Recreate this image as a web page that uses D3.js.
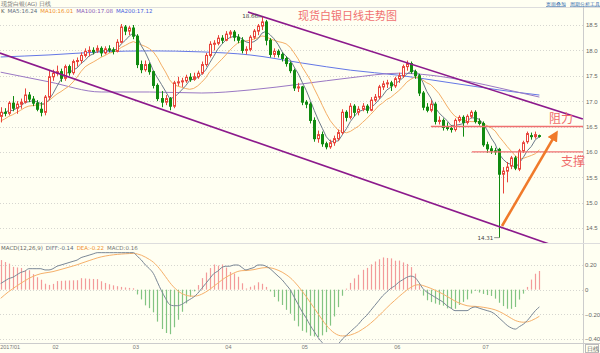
<!DOCTYPE html>
<html><head><meta charset="utf-8">
<script src="https://cdn.jsdelivr.net/npm/d3@7"></script>
<style>
body{margin:0;background:#fffff2;}
svg{display:block;font-family:"DejaVu Sans",sans-serif;}
</style>
</head><body>
<svg id="c" width="600" height="353"></svg>
<script>
// ---------- data ----------
const monthLabels = ["2017/01","02","03","04","05","06","07"];
const monthStarts = [0,13,33,56,75,98,120];

const opens = [16.70,16.78,16.76,16.96,16.86,16.94,16.98,17.12,17.04,16.96,16.84,16.78,17.08,
17.48,17.55,17.58,17.45,17.68,17.56,17.78,17.80,17.90,17.98,18.00,18.00,18.04,17.95,18.03,18.01,17.98,18.16,18.46,18.38,
18.44,18.28,17.72,17.62,17.72,17.58,17.31,17.05,16.98,17.05,16.90,17.36,17.38,17.40,17.47,17.43,17.48,17.55,17.72,17.90,18.12,18.14,18.24,
18.20,18.32,18.36,18.26,18.20,18.00,18.02,18.26,18.38,18.48,18.56,18.20,17.92,17.98,17.92,17.84,17.74,17.60,17.26,
17.28,16.98,16.94,16.62,16.26,16.34,16.16,16.10,16.18,16.26,16.38,16.78,16.68,16.90,16.78,16.84,16.90,16.82,17.02,17.08,17.28,17.34,17.36,
17.30,17.44,17.50,17.68,17.74,17.58,17.50,17.16,16.88,16.82,16.94,16.60,16.62,16.48,16.46,16.44,16.62,16.68,16.58,16.70,16.78,16.60,
16.56,16.14,16.06,16.02,16.05,15.56,15.62,15.72,15.88,15.66,16.02,16.20,16.32,16.30,16.32];
const highs = [16.88,16.86,17.00,17.10,17.00,17.05,17.25,17.18,17.10,17.02,16.98,17.12,17.60,
17.62,17.70,17.64,17.72,17.72,17.82,17.86,17.96,18.04,18.08,18.06,18.10,18.08,18.08,18.10,18.06,18.22,18.52,18.50,18.48,
18.50,18.32,17.80,17.80,17.76,17.60,17.35,17.20,17.12,17.08,17.40,17.48,17.46,17.52,17.55,17.56,17.60,17.78,17.95,18.18,18.20,18.30,18.30,
18.38,18.40,18.40,18.32,18.26,18.08,18.30,18.42,18.52,18.66,18.60,18.24,18.04,18.02,17.96,17.88,17.78,17.64,17.36,
17.30,17.02,16.98,16.68,16.42,16.40,16.20,16.24,16.32,16.44,16.84,16.82,16.96,16.94,16.90,16.96,16.94,17.08,17.14,17.32,17.40,17.42,17.40,
17.48,17.56,17.72,17.80,17.78,17.62,17.54,17.20,16.96,17.02,16.98,16.70,16.66,16.58,16.52,16.66,16.72,16.72,16.74,16.82,16.82,16.66,
16.60,16.20,16.12,16.08,16.08,15.70,15.80,15.92,15.92,16.06,16.22,16.40,16.38,16.40,16.34];
const lows = [16.58,16.70,16.72,16.80,16.75,16.85,16.95,16.98,16.90,16.80,16.70,16.72,17.02,
17.40,17.50,17.38,17.40,17.50,17.52,17.68,17.74,17.86,17.88,17.92,17.95,17.88,17.92,17.96,17.92,17.96,18.14,18.30,18.30,
18.22,17.65,17.55,17.58,17.52,17.25,17.00,16.88,16.92,16.82,16.86,17.30,17.28,17.36,17.38,17.40,17.44,17.52,17.68,17.86,18.00,18.10,18.14,
18.18,18.24,18.18,18.14,17.94,17.92,17.98,18.22,18.30,18.40,18.10,17.86,17.86,17.86,17.78,17.68,17.55,17.20,17.18,
16.92,16.86,16.56,16.20,16.18,16.10,16.05,16.06,16.12,16.22,16.34,16.60,16.64,16.70,16.72,16.80,16.76,16.80,16.98,17.04,17.22,17.26,17.20,
17.26,17.36,17.46,17.60,17.54,17.44,17.10,16.82,16.78,16.78,16.54,16.54,16.42,16.42,16.38,16.40,16.58,16.30,16.54,16.66,16.56,16.52,
16.10,15.98,15.96,15.94,14.31,15.18,15.40,15.66,15.64,15.62,15.98,16.16,16.24,16.26,16.28];
const closes = [16.78,16.76,16.96,16.86,16.94,16.98,17.12,17.04,16.96,16.84,16.78,17.08,17.48,
17.55,17.58,17.45,17.68,17.56,17.78,17.80,17.90,17.98,18.00,17.97,18.04,17.95,18.03,18.01,17.98,18.16,18.46,18.38,18.44,
18.28,17.72,17.62,17.72,17.58,17.31,17.05,16.98,17.05,16.90,17.36,17.38,17.40,17.47,17.43,17.48,17.55,17.72,17.90,18.12,18.14,18.24,18.20,
18.32,18.36,18.26,18.20,18.00,18.02,18.26,18.38,18.48,18.56,18.20,17.92,17.98,17.92,17.84,17.74,17.60,17.26,17.28,
16.98,16.94,16.62,16.26,16.34,16.16,16.10,16.18,16.26,16.38,16.78,16.68,16.90,16.78,16.84,16.90,16.82,17.02,17.08,17.28,17.34,17.36,17.30,
17.44,17.50,17.68,17.74,17.58,17.50,17.16,16.88,16.82,16.94,16.60,16.62,16.48,16.46,16.44,16.62,16.68,16.58,16.70,16.78,16.60,16.56,
16.14,16.06,16.02,16.00,15.56,15.62,15.70,15.88,15.68,16.02,16.18,16.36,16.30,16.34,16.31];
const prevCloses = [16.38,16.45,16.52,16.48,16.55,16.62,16.74,16.86,16.72];

const ma100Index = [0,12,25,37,50,62,75,87,99,107,117,124,134];
const ma100Values = [17.57,17.38,17.18,17.18,17.16,17.22,17.34,17.46,17.55,17.51,17.38,17.26,17.08];
const ma200Index = [0,12,25,37,50,62,75,87,99,112,124,134];
const ma200Values = [17.87,17.91,17.97,17.99,17.97,17.91,17.75,17.61,17.51,17.36,17.22,17.12];

const diffValues = [0.05,0.07,0.09,0.10,0.12,0.14,0.15,0.17,0.17,0.17,0.17,0.16,0.16,
0.17,0.19,0.20,0.21,0.22,0.23,0.24,0.26,0.27,0.28,0.29,0.30,0.30,0.30,0.30,0.30,0.30,0.30,0.30,0.30,
0.30,0.27,0.24,0.20,0.17,0.13,0.06,-0.01,-0.07,-0.12,-0.13,-0.13,-0.12,-0.10,-0.08,-0.06,-0.03,0.01,0.05,0.09,0.13,0.15,0.18,
0.19,0.19,0.20,0.20,0.18,0.16,0.17,0.18,0.20,0.20,0.19,0.17,0.14,0.11,0.08,0.04,0.00,-0.06,-0.12,
-0.18,-0.23,-0.29,-0.34,-0.39,-0.43,-0.46,-0.47,-0.46,-0.44,-0.40,-0.37,-0.34,-0.31,-0.28,-0.24,-0.21,-0.17,-0.13,-0.09,-0.05,-0.02,0.01,
0.03,0.06,0.08,0.10,0.11,0.10,0.06,0.01,-0.02,-0.04,-0.06,-0.08,-0.10,-0.13,-0.15,-0.17,-0.17,-0.17,-0.17,-0.15,-0.14,-0.15,
-0.16,-0.17,-0.18,-0.20,-0.23,-0.26,-0.29,-0.31,-0.32,-0.30,-0.28,-0.25,-0.21,-0.17,-0.14];
const deaStart = -0.07;

const priceTicks = [18.5,18.0,17.5,17.0,16.5,16.0,15.5,15.0,14.5];
const macdTicks = [0.2,0,-0.2,-0.4];

const maLegend = [["K","#555"],["MA5:16.24","#5e6e80"],["MA10:16.01","#f0902c"],["MA100:17.08","#8a5cb8"],["MA200:17.12","#4a5ee0"]];
const macdLegend = [["MACD(12,26,9)","#666"],["DIFF:-0.14","#5e6e80"],["DEA:-0.22","#f0902c"],["MACD:0.16","#777"]];

const upperChannel = [[61.5,18.756],[144.8,16.648]];
const lowerChannel = [[-0.2,17.948],[136.4,14.185]];
const resistance = {from:107, to:145, price:16.5};
const support = {from:117.2, to:145, price:16.0};
const arrowLine = [[124.7,14.54],[137.9,16.33]];

// ---------- drawing ----------
const W = 600, H = 353, axisX = 583;
const svg = d3.select("#c");
const n = closes.length;
const x = d3.scaleLinear().domain([0, n-1]).range([0.7, 539.4]);
const y = d3.scaleLinear().domain([14.5, 18.5]).range([228, 25]);
const ym = d3.scaleLinear().domain([-0.4, 0.2]).range([339, 265]);
const px = i => Math.round(x(i)) + 0.5;

svg.append("rect").attr("width",W).attr("height",H).attr("fill","#fffff2");

const defs = svg.append("defs");
defs.append("clipPath").attr("id","cp").append("rect").attr("x",0).attr("y",7).attr("width",axisX).attr("height",236);
defs.append("clipPath").attr("id","cm").append("rect").attr("x",0).attr("y",243).attr("width",axisX).attr("height",100);
defs.append("marker").attr("id","ah").attr("viewBox","0 0 10 10").attr("refX",5).attr("refY",5)
  .attr("markerWidth",4.2).attr("markerHeight",4.2).attr("orient","auto")
  .append("path").attr("d","M0,0 L10,5 L0,10 Z").attr("fill","#f07a2a");

svg.append("text").attr("x",1).attr("y",5.5).attr("font-size",5.5).attr("fill","#777").text("现货白银(AG) 日线");
[["页面叠加",546],["周期",570],["分析工具",580]].forEach(d=>{
  svg.append("text").attr("x",d[1]).attr("y",5.5).attr("font-size",5.2).attr("fill","#3a70b0")
    .attr("text-decoration","underline").text(d[0]);
});
svg.append("line").attr("x1",0).attr("x2",W).attr("y1",7.5).attr("y2",7.5).attr("stroke","#ddd");

svg.append("line").attr("x1",axisX+0.5).attr("x2",axisX+0.5).attr("y1",7).attr("y2",H).attr("stroke","#ccc");
svg.append("line").attr("x1",0).attr("x2",W).attr("y1",243.5).attr("y2",243.5).attr("stroke","#ddd");
svg.append("line").attr("x1",0).attr("x2",W).attr("y1",343.5).attr("y2",343.5).attr("stroke","#ccc");

const axisFont = "Liberation Sans";
svg.selectAll("line.g").data(priceTicks).join("line")
  .attr("x1",0).attr("x2",axisX).attr("y1",d=>Math.round(y(d))+0.5).attr("y2",d=>Math.round(y(d))+0.5)
  .attr("stroke","#d6d6d0").attr("stroke-dasharray","1,2");
const yAxis = d3.axisRight(y).tickValues(priceTicks).tickFormat(d3.format(".1f")).tickSize(0).tickPadding(3);
const ya = svg.append("g").attr("transform",`translate(${axisX},0)`).call(yAxis);
ya.select(".domain").remove();
ya.selectAll("text").attr("font-size",6).attr("fill","#666").attr("font-family",axisFont);

svg.selectAll("line.gm").data(macdTicks).join("line")
  .attr("x1",0).attr("x2",axisX).attr("y1",d=>Math.round(ym(d))+0.5).attr("y2",d=>Math.round(ym(d))+0.5)
  .attr("stroke","#d6d6d0").attr("stroke-dasharray","1,2");
const mAxis = d3.axisRight(ym).tickValues(macdTicks).tickFormat(d=>d===0?"0":d3.format(".2f")(d)).tickSize(0).tickPadding(2);
const ma = svg.append("g").attr("transform",`translate(${axisX},0)`).call(mAxis);
ma.select(".domain").remove();
ma.selectAll("text").attr("font-size",6).attr("fill","#666").attr("font-family",axisFont);

const xAxis = d3.axisBottom(x).tickValues(monthStarts).tickFormat((d,i)=>monthLabels[i]).tickSize(0).tickPadding(1);
const xa = svg.append("g").attr("transform","translate(0,344)").call(xAxis);
xa.select(".domain").remove();
xa.selectAll("text").attr("font-size",5.5).attr("fill","#777").attr("text-anchor","start").attr("dx",-1).attr("font-family",axisFont);
svg.append("rect").attr("x",585.5).attr("y",344.5).attr("width",13).attr("height",8).attr("fill","none").attr("stroke","#bbb");
svg.append("text").attr("x",587).attr("y",351).attr("font-size",5.5).attr("fill","#666").text("日线");

let lx = 1;
const lg = svg.append("g");
maLegend.forEach(d=>{
  const t = lg.append("text").attr("x",lx).attr("y",13).attr("font-size",5.5).attr("fill",d[1]).text(d[0]);
  lx += t.node().getComputedTextLength() + 3;
});
lx = 1;
macdLegend.forEach(d=>{
  const t = lg.append("text").attr("x",lx).attr("y",250).attr("font-size",5.5).attr("fill",d[1]).text(d[0]);
  lx += t.node().getComputedTextLength() + 3;
});

const pg = svg.append("g").attr("clip-path","url(#cp)");

const all = prevCloses.concat(closes);
const maN = k => closes.map((c,i)=>{ const j=i+prevCloses.length; return d3.mean(all.slice(Math.max(0,j-k+1), j+1)); });
const ma5 = maN(5), ma10 = maN(10);
const line = d3.line().x((d,i)=>x(i)).y(d=>y(d));
const lineXY = d3.line().x(d=>x(d[0])).y(d=>y(d[1])).curve(d3.curveMonotoneX);
pg.append("path").attr("d",lineXY(ma200Index.map((d,i)=>[d,ma200Values[i]]))).attr("fill","none").attr("stroke","#6477e6").attr("stroke-width",1);
pg.append("path").attr("d",lineXY(ma100Index.map((d,i)=>[d,ma100Values[i]]))).attr("fill","none").attr("stroke","#9a78c4").attr("stroke-width",1);
pg.append("path").attr("d",line(ma10)).attr("fill","none").attr("stroke","#f4ae66").attr("stroke-width",1);
pg.append("path").attr("d",line(ma5)).attr("fill","none").attr("stroke","#6c7a8a").attr("stroke-width",1);

const idx = d3.range(n);
const up = i => closes[i] >= opens[i];
const cg = pg.append("g");
cg.selectAll("line.w").data(idx).join("line")
  .attr("x1",px).attr("x2",px).attr("y1",i=>y(highs[i])).attr("y2",i=>y(lows[i]))
  .attr("stroke",i=>up(i)?"#e8453c":"#108a10").attr("stroke-width",1);
cg.selectAll("rect.b").data(idx).join("rect")
  .attr("x",i=>Math.round(x(i))-1+0.5)
  .attr("y",i=>y(Math.max(opens[i],closes[i])))
  .attr("width",2)
  .attr("height",i=>Math.max(0.8, Math.abs(y(opens[i])-y(closes[i]))))
  .attr("fill",i=>up(i)?"#fffff2":"#108a10")
  .attr("stroke",i=>up(i)?"#e8453c":"#108a10").attr("stroke-width",1);

const lp = d3.line().x(d=>x(d[0])).y(d=>y(d[1]));
pg.append("path").attr("d",lp(upperChannel)).attr("stroke","#8c1a8c").attr("stroke-width",1.6).attr("fill","none");
pg.append("path").attr("d",lp(lowerChannel)).attr("stroke","#8c1a8c").attr("stroke-width",1.6).attr("fill","none");

[resistance, support].forEach(r=>{
  pg.append("line").attr("x1",x(r.from)).attr("x2",x(r.to)).attr("y1",y(r.price)).attr("y2",y(r.price))
    .attr("stroke","#f07070").attr("stroke-width",1.3);
});
svg.append("text").attr("x",549).attr("y",123).attr("font-size",12).attr("fill","#f06a6a")
  .attr("font-family","Noto Sans CJK SC").text("阻力");
svg.append("text").attr("x",561).attr("y",166).attr("font-size",12).attr("fill","#f06a6a")
  .attr("font-family","Noto Sans CJK SC").text("支撑");

pg.append("line").attr("x1",x(arrowLine[0][0])).attr("y1",y(arrowLine[0][1]))
  .attr("x2",x(arrowLine[1][0])).attr("y2",y(arrowLine[1][1]))
  .attr("stroke","#f07a2a").attr("stroke-width",2.6).attr("marker-end","url(#ah)");

svg.append("text").attr("x",298).attr("y",20).attr("font-size",11).attr("fill","#f07070")
  .attr("font-family","Noto Sans CJK SC").text("现货白银日线走势图");

const hiI = d3.maxIndex(highs), loI = d3.minIndex(lows);
svg.append("text").attr("x",x(hiI)-4).attr("y",y(highs[hiI])+1).attr("text-anchor","end").attr("font-size",5.5).attr("fill","#444").text(d3.format(".2f")(highs[hiI]));
svg.append("line").attr("x1",x(hiI)-4).attr("x2",x(hiI)).attr("y1",y(highs[hiI])).attr("y2",y(highs[hiI])).attr("stroke","#444").attr("stroke-width",0.6);
svg.append("text").attr("x",x(loI)-6).attr("y",y(lows[loI])+2).attr("text-anchor","end").attr("font-size",5.5).attr("fill","#444").text(d3.format(".2f")(lows[loI]));
svg.append("line").attr("x1",x(loI)-5).attr("x2",x(loI)).attr("y1",y(lows[loI])).attr("y2",y(lows[loI])).attr("stroke","#444").attr("stroke-width",0.6);

const mg = svg.append("g").attr("clip-path","url(#cm)");
const dea = []; let prev = deaStart;
diffValues.forEach((d,i)=>{ const v = i===0 ? deaStart : prev*0.8 + d*0.2; dea.push(v); prev = v; });
const hist = diffValues.map((d,i)=>2*(d-dea[i]));
mg.selectAll("line.h").data(idx).join("line")
  .attr("x1",px).attr("x2",px).attr("y1",ym(0)).attr("y2",i=>ym(hist[i]))
  .attr("stroke",i=>hist[i]>=0?"#f39a9a":"#82c482").attr("stroke-width",1.2);
const ml = d3.line().x((d,i)=>x(i)).y(d=>ym(d)).curve(d3.curveMonotoneX);
mg.append("path").attr("d",ml(dea)).attr("fill","none").attr("stroke","#f6b06a").attr("stroke-width",1);
mg.append("path").attr("d",ml(diffValues)).attr("fill","none").attr("stroke","#7a8796").attr("stroke-width",1);
</script>
</body></html>
